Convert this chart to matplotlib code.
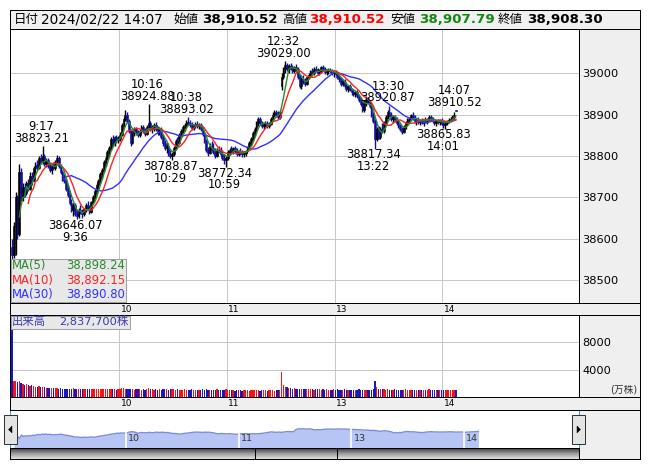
import numpy as np
import pandas as pd
import matplotlib
matplotlib.use('Agg')
import matplotlib.pyplot as plt
from matplotlib.patches import Rectangle, Polygon
from matplotlib.lines import Line2D
from matplotlib.transforms import ScaledTranslation

plt.rcParams['font.family'] = ['DejaVu Sans', 'Noto Sans CJK JP']

# ---------------- data (1-minute bars, 9:00-11:29 and 12:30-14:07) ----------------
opens = [
 38580,38560,38630,38700,38610,38760,38700,38725,38710,38735,
 38720,38752,38740,38770,38778,38770,38795,38785,38800,38780,
 38790,38775,38765,38775,38770,38785,38795,38775,38760,38745,
 38740,38720,38705,38685,38670,38680,38660,38655,38670,38665,
 38660,38672,38680,38672,38665,38688,38700,38715,38730,38740,
 38755,38765,38785,38795,38810,38820,38840,38830,38845,38838,
 38842,38850,38875,38890,38900,38885,38860,38830,38855,38865,
 38855,38850,38860,38870,38860,38852,38870,38880,38865,38870,
 38875,38865,38858,38865,38845,38830,38820,38825,38805,38800,
 38805,38820,38835,38830,38850,38860,38870,38875,38882,38880,
 38875,38868,38872,38878,38872,38875,38865,38852,38835,38815,
 38808,38825,38820,38810,38800,38815,38812,38805,38795,38790,
 38795,38810,38815,38812,38818,38812,38805,38810,38808,38805,
 38808,38812,38820,38830,38840,38855,38865,38880,38890,38880,
 38872,38875,38880,38872,38878,38890,38900,38905,38900,38895,
 38970,38990,39010,39020,39010,39018,39012,39005,39015,39010,
 38990,38970,38985,38980,38975,38990,38995,39005,39000,39010,
 39008,39000,39005,39015,39010,39002,39005,39008,39005,39000,
 39002,38998,38990,38985,38975,38980,38970,38962,38968,38960,
 38955,38950,38955,38945,38935,38925,38910,38930,38935,38930,
 38920,38900,38885,38840,38865,38845,38865,38860,38880,38895,
 38905,38900,38890,38895,38888,38880,38872,38865,38858,38870,
 38880,38888,38890,38898,38892,38885,38888,38882,38886,38880,
 38888,38885,38890,38895,38888,38885,38880,38885,38882,38888,
 38878,38875,38880,38885,38888,38890,38895,38910.52]
highs = [
 38600,38640,38712,38705,38780,38770,38735,38735,38740,38745,
 38760,38760,38775,38785,38790,38800,38805,38823.21,38805,38795,
 38795,38785,38780,38785,38790,38802,38800,38780,38765,38755,
 38745,38730,38710,38695,38685,38685,38668,38675,38680,38672,
 38675,38685,38690,38680,38690,38705,38720,38735,38745,38760,
 38770,38790,38800,38815,38825,38845,38850,38848,38850,38848,
 38858,38880,38895,38912,38905,38890,38865,38860,38870,38870,
 38862,38865,38875,38875,38868,38875,38924.88,38885,38875,38880,
 38882,38872,38870,38870,38850,38838,38830,38830,38815,38810,
 38825,38840,38845,38855,38865,38875,38880,38888,38893.02,38888,
 38882,38878,38882,38885,38880,38880,38870,38858,38840,38822,
 38830,38835,38830,38818,38820,38825,38822,38815,38805,38800,
 38815,38820,38825,38822,38825,38818,38815,38818,38815,38812,
 38815,38825,38835,38845,38860,38870,38885,38895,38895,38885,
 38880,38885,38885,38882,38895,38905,38912,38910,38908,38912,
 39000,39015,39029.00,39025,39022,39025,39020,39018,39022,39015,
 38995,38990,38995,38988,38992,39000,39008,39012,39015,39018,
 39012,39010,39018,39020,39015,39010,39012,39012,39010,39008,
 39008,39002,38998,38990,38985,38985,38978,38972,38975,38965,
 38962,38958,38960,38950,38942,38930,38935,38940,38942,38935,
 38925,38905,38890,38870,38872,38870,38880,38885,38900,38912,
 38920.87,38905,38898,38900,38895,38888,38878,38870,38875,38885,
 38892,38895,38902,38905,38898,38892,38895,38890,38892,38890,
 38895,38892,38900,38900,38895,38890,38888,38890,38890,38892,
 38885,38882,38888,38892,38895,38898,38905,38910.52]
lows = [
 38548,38552,38560,38600,38605,38690,38690,38700,38705,38715,
 38718,38730,38738,38760,38765,38768,38780,38780,38775,38772,
 38770,38760,38755,38765,38765,38778,38770,38755,38740,38735,
 38715,38700,38680,38665,38655,38655,38646.07,38650,38660,38650,
 38655,38665,38668,38660,38662,38685,38695,38710,38720,38735,
 38745,38760,38775,38790,38800,38815,38825,38825,38832,38830,
 38835,38848,38870,38885,38880,38855,38825,38828,38848,38850,
 38845,38845,38855,38855,38848,38850,38865,38860,38855,38860,
 38860,38850,38850,38840,38825,38815,38808,38800,38795,38788.87,
 38800,38815,38825,38828,38845,38855,38860,38868,38875,38870,
 38862,38862,38868,38868,38865,38860,38848,38830,38810,38800,
 38805,38815,38805,38795,38798,38808,38800,38790,38780,38772.34,
 38790,38802,38808,38805,38808,38800,38800,38802,38798,38798,
 38800,38808,38815,38825,38835,38848,38860,38872,38875,38868,
 38865,38870,38868,38868,38875,38885,38895,38895,38890,38890,
 38960,38985,39000,39005,39000,39008,39000,39000,39005,38985,
 38965,38962,38975,38970,38972,38985,38990,38998,38995,39002,
 38995,38995,39000,39005,38998,38995,38998,39000,38995,38992,
 38995,38985,38978,38970,38968,38965,38958,38955,38958,38948,
 38945,38942,38940,38930,38920,38905,38905,38920,38925,38915,
 38895,38880,38817.34,38835,38840,38840,38855,38855,38875,38890,
 38895,38885,38880,38882,38875,38868,38860,38852,38855,38865,
 38875,38880,38885,38888,38880,38875,38878,38875,38878,38872,
 38880,38878,38885,38885,38880,38875,38872,38878,38875,38875,
 38868,38865.83,38875,38880,38882,38885,38890,38907.79]
closes = [
 38560,38630,38700,38610,38760,38700,38725,38710,38735,38720,
 38752,38740,38770,38778,38770,38795,38785,38800,38780,38790,
 38775,38765,38775,38770,38785,38795,38775,38760,38745,38740,
 38720,38705,38685,38670,38680,38660,38655,38670,38665,38660,
 38672,38680,38672,38665,38688,38700,38715,38730,38740,38755,
 38765,38785,38795,38810,38820,38840,38830,38845,38838,38842,
 38850,38875,38890,38900,38885,38860,38830,38855,38865,38855,
 38850,38860,38870,38860,38852,38870,38880,38865,38870,38875,
 38865,38858,38865,38845,38830,38820,38825,38805,38800,38805,
 38820,38835,38830,38850,38860,38870,38875,38882,38880,38875,
 38868,38872,38878,38872,38875,38865,38852,38835,38815,38808,
 38825,38820,38810,38800,38815,38812,38805,38795,38790,38795,
 38810,38815,38812,38818,38812,38805,38810,38808,38805,38808,
 38812,38820,38830,38840,38855,38865,38880,38890,38880,38872,
 38875,38880,38872,38878,38890,38900,38905,38900,38895,38905,
 38990,39010,39020,39010,39018,39012,39005,39015,39010,38990,
 38970,38985,38980,38975,38990,38995,39005,39000,39010,39008,
 39000,39005,39015,39010,39002,39005,39008,39005,39000,39002,
 38998,38990,38985,38975,38980,38970,38962,38968,38960,38955,
 38950,38955,38945,38935,38925,38910,38930,38935,38930,38920,
 38900,38885,38840,38865,38845,38865,38860,38880,38895,38905,
 38900,38890,38895,38888,38880,38872,38865,38858,38870,38880,
 38888,38890,38898,38892,38885,38888,38882,38886,38880,38888,
 38885,38890,38895,38888,38885,38880,38885,38882,38888,38878,
 38875,38880,38885,38888,38890,38895,38900,38908.30]
volumes = [  # 万株
 9800,2300,2350,2200,2400,2100,1900,1750,1850,1700,
 1600,1750,1600,1500,1450,1550,1400,1500,1450,1350,
 1300,1350,1300,1250,1300,1250,1200,1250,1200,1150,
 1200,1200,1150,1200,1250,1200,1150,1200,1150,1100,
 1150,1200,1150,1100,1150,1200,1150,1100,1150,1200,
 1150,1100,1150,1200,1150,1100,1150,1100,1050,1100,
 1150,1300,1250,1200,1150,1100,1150,1100,1050,1100,
 1150,1100,1050,1100,1050,1100,1300,1150,1100,1050,
 1100,1050,1100,1050,1100,1150,1100,1050,1100,1150,
 1100,1050,1100,1050,1000,1050,1100,1050,1000,1050,
 1100,1050,1000,1050,1000,1050,1100,1050,1100,1050,
 1000,1050,1000,1050,1100,1000,1050,1000,1050,1100,
 1050,1000,1050,1000,950,1000,1050,1000,950,1000,
 1050,1000,950,1000,1050,1000,1050,1000,950,1000,
 1050,1000,950,1000,1050,1000,950,1000,1050,1000,
 3650,1800,1500,1400,1300,1250,1200,1250,1150,1200,
 1150,1200,1150,1100,1150,1100,1150,1100,1050,1100,
 1150,1100,1050,1100,1050,1100,1050,1000,1050,1100,
 1050,1100,1050,1000,1050,1100,1050,1000,1050,1000,
 1050,1000,1050,1100,1050,1000,1050,1000,1050,1000,
 1050,1100,2350,1400,1200,1100,1150,1100,1050,1100,
 1050,1000,1050,1100,1050,1000,1050,1000,1050,1100,
 1000,1050,1000,1050,1000,1050,1000,1050,1000,1050,
 1000,1050,1100,1000,1050,1000,1050,1000,1050,1000,
 1050,1000,1050,1000,1050,1000,1050,1000]

# minute labels for the two sessions
times = ([f"{9 + m // 60}:{m % 60:02d}" for m in range(0, 150)] +
         [f"{12 + (30 + m) // 60}:{(30 + m) % 60:02d}" for m in range(0, 98)])

hour_labels = ['10', '11', '13', '14']
hour_times = ['10:00', '11:00', '13:00', '14:00']
price_ticks = [38500, 38600, 38700, 38800, 38900, 39000]
vol_ticks = [4000, 8000]

# marked highs / lows (time, kind)
marks = [('9:17', 'high'), ('9:36', 'low'), ('10:16', 'high'), ('10:38', 'high'),
         ('10:29', 'low'), ('10:59', 'low'), ('12:32', 'high'), ('13:30', 'high'),
         ('13:22', 'low'), ('14:07', 'high'), ('14:01', 'low')]

header_items = [
    ('日付', 14, 9, 'normal', 'black'),
    ('2024/02/22 14:07', 41, 9.8, 'normal', 'black'),
    ('始値', 173, 9, 'normal', 'black'),
    ('38,910.52', 202, 9.6, 'bold', 'black'),
    ('高値', 282, 9, 'normal', 'black'),
    ('38,910.52', 309, 9.6, 'bold', '#ff0000'),
    ('安値', 390, 9, 'normal', 'black'),
    ('38,907.79', 419, 9.6, 'bold', '#118811'),
    ('終値', 498, 9, 'normal', 'black'),
    ('38,908.30', 527, 9.6, 'bold', 'black'),
]
ma_legend = [('MA(5)', '38,898.24', '#2a8a2a'),
             ('MA(10)', '38,892.15', '#ff2020'),
             ('MA(30)', '38,890.80', '#3030ff')]

# ---------------- figure ----------------
W, H = 653, 470
fig = plt.figure(figsize=(W / 100, H / 100), dpi=100)
fig.patch.set_facecolor('white')
LW = 0.72
GRAY = '#efefef'
GRID = '#c8c8c8'


def rect(x0, y0, x1, y1):
    return [x0 / W, 1 - y1 / H, (x1 - x0) / W, (y1 - y0) / H]


def fx(x):
    return x / W


def fy(y):
    return 1 - y / H


def style(ax, color='black'):
    for s in ax.spines.values():
        s.set_color(color)
        s.set_linewidth(LW)


bg = fig.add_axes(rect(10, 29, 640, 459))
bg.set_facecolor(GRAY)
bg.set_xticks([]); bg.set_yticks([])
style(bg)

hdr = fig.add_axes(rect(10, 10, 640, 29))
hdr.set_facecolor('#f0f0f0')
hdr.set_xticks([]); hdr.set_yticks([])
style(hdr)
for s, x, fs, wt, c in header_items:
    fig.text(fx(x), fy(19.8), s, fontsize=fs, weight=wt, color=c, ha='left', va='center')

# strip separator lines
for yy in (303, 315, 397, 410):
    fig.add_artist(Line2D([fx(10), fx(640)], [fy(yy), fy(yy)], color='black', lw=LW,
                          transform=fig.transFigure))

n = len(closes)
x = np.arange(n) + 0.5
O = np.array(opens, float); Hh = np.array(highs, float)
L = np.array(lows, float); C = np.array(closes, float)
up = C >= O
hour_idx = [times.index(t) for t in hour_times]
XL = (-0.67, 316.0)

# ---------------- main price panel ----------------
ax = fig.add_axes(rect(10, 29, 579, 303))
ax.set_facecolor('white')
style(ax)
ax.set_xlim(*XL)
ax.set_ylim(38444, 39107)
ax.set_axisbelow(True)
ax.grid(True, color=GRID, lw=LW)
ax.set_yticks(price_ticks)
ax.yaxis.tick_right()
ax.tick_params(axis='y', length=0, pad=2.6, labelsize=8.2)
ax.set_xticks(hour_idx)
ax.set_xticklabels(hour_labels)
ax.tick_params(axis='x', length=0, pad=1.5, labelsize=6.5)
for lbl in ax.get_xticklabels():
    lbl.set_ha('left')
    lbl.set_transform(lbl.get_transform() + ScaledTranslation(1.5 / 100, 0, fig.dpi_scale_trans))

ccol = np.where(up, '#000000', '#10109c')
ax.vlines(x, L, Hh, colors=ccol, lw=1.0, zorder=3)
body_lo = np.minimum(O, C)
body_h = np.maximum(np.abs(C - O), 2.0)
ax.bar(x, body_h, bottom=body_lo, width=0.95, color=ccol, edgecolor=ccol, lw=0.4, zorder=3)

cs = pd.Series(C)
ma5 = cs.rolling(5).mean()
ma10 = cs.rolling(10).mean()
ma30 = cs.rolling(30).mean()
ax.plot(x, ma30, color='#3030ff', lw=1.0, zorder=4)
ax.plot(x, ma10, color='#ff2020', lw=1.0, zorder=5)
ax.plot(x, ma5, color='#2a8a2a', lw=1.0, zorder=6)

for t, kind in marks:
    i = times.index(t)
    if kind == 'high':
        p = Hh[i]
        ax.annotate(f"{p:.2f}", (x[i], p), xytext=(-1.5, 8), textcoords='offset pixels',
                    ha='center', va='center', fontsize=8.3, zorder=8)
        ax.annotate(t, (x[i], p), xytext=(-1.5, 19.6), textcoords='offset pixels',
                    ha='center', va='center', fontsize=8.3, zorder=8)
    else:
        p = L[i]
        ax.annotate(f"{p:.2f}", (x[i], p), xytext=(-1.5, -6), textcoords='offset pixels',
                    ha='center', va='center', fontsize=8.3, zorder=8)
        ax.annotate(t, (x[i], p), xytext=(-1.5, -17.6), textcoords='offset pixels',
                    ha='center', va='center', fontsize=8.3, zorder=8)

# MA legend box
fig.add_artist(Rectangle((fx(10.5), fy(302)), (126 - 10.5) / W, (302 - 258.5) / H,
                         transform=fig.transFigure, facecolor='#e8e8e8', edgecolor='#a0a0a0',
                         lw=LW, zorder=5))
for k, (lab, val, c) in enumerate(ma_legend):
    yy = 266 + k * 14.3
    fig.text(fx(12), fy(yy), lab, color=c, fontsize=8.4, ha='left', va='center', zorder=6)
    fig.text(fx(125), fy(yy), val, color=c, fontsize=8.4, ha='right', va='center', zorder=6)

# ---------------- volume panel ----------------
av = fig.add_axes(rect(10, 315, 579, 397))
av.set_facecolor('white')
style(av)
av.set_xlim(*XL)
av.set_ylim(0, 12000)
av.set_axisbelow(True)
av.grid(True, color=GRID, lw=LW)
av.set_yticks(vol_ticks)
av.yaxis.tick_right()
av.tick_params(axis='y', length=0, pad=2.6, labelsize=8.2)
av.set_xticks(hour_idx)
av.set_xticklabels(hour_labels)
av.tick_params(axis='x', length=0, pad=1.5, labelsize=6.5)
for lbl in av.get_xticklabels():
    lbl.set_ha('left')
    lbl.set_transform(lbl.get_transform() + ScaledTranslation(1.5 / 100, 0, fig.dpi_scale_trans))
vcol = np.where(up, '#ff1010', '#1818c0')
av.bar(x, volumes, width=0.7, color=vcol, lw=0, zorder=3)
fig.text(fx(637), fy(390), '(万株)', fontsize=7, ha='right', va='center', color='#333333')

fig.add_artist(Rectangle((fx(10.5), fy(328.5)), (130 - 10.5) / W, (328.5 - 315.5) / H,
                         transform=fig.transFigure, facecolor='#e8e8e8', edgecolor='#a0a0a0',
                         lw=LW, zorder=5))
fig.text(fx(12), fy(322), '出来高', color='#3a3ab4', fontsize=8.2, ha='left', va='center', zorder=6)
fig.text(fx(128.5), fy(322), '2,837,700株', color='#3a3ab4', fontsize=8.2, ha='right',
         va='center', zorder=6)

# ---------------- navigator ----------------
an = fig.add_axes(rect(10, 410, 579, 448))
an.set_facecolor('white')
style(an)
for side in ('left', 'right'):
    an.spines[side].set_color('#3aa0c8')
an.spines['top'].set_visible(False)
an.set_xticks([]); an.set_yticks([])
an.set_xlim(-1.6, 301)
an.set_ylim(38220, 39800)
an.fill_between(x, C, 38220, color='#b6c5f4', lw=0)
an.plot(x, C, color='#7f8cd8', lw=1.0)
for i, lab in zip(hour_idx, hour_labels):
    an.axvline(i, color='white', lw=1.2)
    an.annotate(lab, (i, 0.26), xycoords=('data', 'axes fraction'), xytext=(2, 0),
                textcoords='offset pixels', fontsize=6.8, ha='left', va='center', color='#333333')

# scrollbar
asb = fig.add_axes(rect(10, 448, 579, 459))
grad = np.linspace(0, 1, 64).reshape(-1, 1)
asb.imshow(grad, aspect='auto', cmap=matplotlib.colors.LinearSegmentedColormap.from_list(
    'g', ['#3a3a3a', '#9a9a9a', '#e0e0e0']), extent=(0, 1, 0, 1))
asb.set_xlim(0, 1); asb.set_ylim(0, 1)
asb.set_xticks([]); asb.set_yticks([])
style(asb)
for px in (255, 337):
    asb.axvline((px - 10) / 569, color='black', lw=LW)

# navigator buttons
for (x0, x1, direction) in ((4, 17, -1), (572, 585, 1)):
    fig.add_artist(Rectangle((fx(x0), fy(444)), (x1 - x0) / W, (444 - 415) / H,
                             transform=fig.transFigure, facecolor='#e4e4e4',
                             edgecolor='#333333', lw=LW, zorder=5))
    cx = (x0 + x1) / 2
    cy = 429.5
    tri = [(fx(cx + direction * 2), fy(cy)), (fx(cx - direction * 1.5), fy(cy - 3.5)),
           (fx(cx - direction * 1.5), fy(cy + 3.5))]
    fig.add_artist(Polygon(tri, closed=True, transform=fig.transFigure,
                           facecolor='black', edgecolor='black', lw=0.3, zorder=6))

fig.savefig('out.png', dpi=100)
